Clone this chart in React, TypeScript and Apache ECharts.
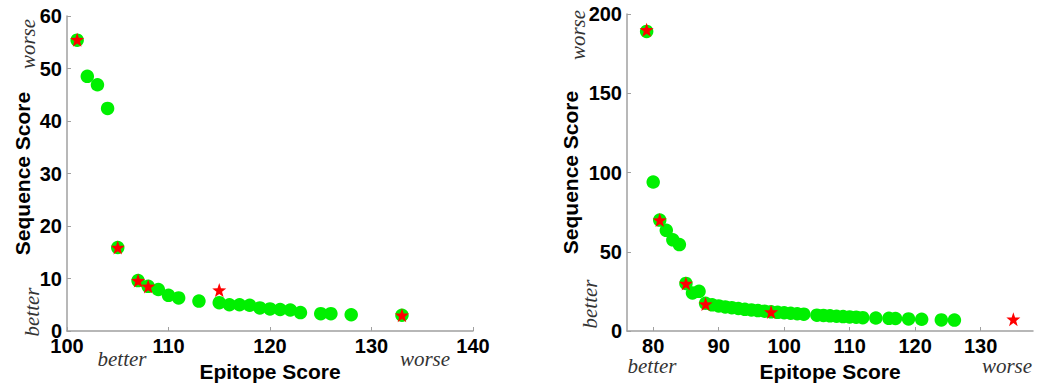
import React, { useEffect, useRef } from "react";
import * as echarts from "echarts";

// ---- Left panel data ----
const leftX = [101, 102, 103, 104, 105, 107, 108, 109, 110, 111, 113, 115, 116, 117, 118, 119, 120, 121, 122, 123, 125, 126, 128, 133];
const leftY = [55.4, 48.5, 46.9, 42.4, 15.9, 9.6, 8.5, 7.9, 6.8, 6.3, 5.7, 5.4, 5.0, 5.0, 4.9, 4.4, 4.2, 4.1, 4.0, 3.5, 3.3, 3.3, 3.1, 3.0];
const leftStarX = [101, 105, 107, 108, 115, 133];
const leftStarY = [55.5, 15.9, 9.6, 8.5, 7.8, 3.0];
const leftXTicks = [100, 110, 120, 130, 140];
const leftYTicks = [0, 10, 20, 30, 40, 50, 60];

// ---- Right panel data ----
const rightX = [79, 80, 81, 82, 83, 84, 85, 86, 87, 88, 89, 90, 91, 92, 93, 94, 95, 96, 97, 98, 99, 100, 101, 102, 103, 105, 106, 107, 108, 109, 110, 111, 112, 114, 116, 117, 119, 121, 124, 126];
const rightY = [189, 94, 70, 63.5, 57.5, 54.5, 30, 24, 25, 17.5, 16.5, 15.8, 15.2, 14.7, 14.2, 13.7, 13.3, 12.9, 12.5, 12.1, 11.8, 11.5, 11.2, 10.9, 10.6, 10.0, 9.8, 9.6, 9.3, 9.1, 8.9, 8.7, 8.4, 8.2, 8.0, 7.9, 7.6, 7.4, 7.0, 6.9];
const rightStarX = [79, 81, 85, 88, 98, 135];
const rightStarY = [190, 70, 30, 17, 12, 7.4];
const rightXTicks = [80, 90, 100, 110, 120, 130];
const rightYTicks = [0, 50, 100, 150, 200];

function starPath(): string {
  const pts: string[] = [];
  for (let i = 0; i < 10; i++) {
    const r = i % 2 === 0 ? 1 : 0.4;
    const a = -Math.PI / 2 + (i * Math.PI) / 5;
    pts.push(`${(r * Math.cos(a)).toFixed(4)} ${(r * Math.sin(a)).toFixed(4)}`);
  }
  return "path://M" + pts.join(" L") + " Z";
}

const zip = (xs: number[], ys: number[]) => xs.map((x, i) => [x, ys[i]]);

const GREEN = "#00f000";
const RED = "#ff0000";
const AXIS = "#a0a0a0";
const tickFont = { fontFamily: "Liberation Sans", fontWeight: "bold" as const, fontSize: 20, color: "#000" };
const titleFont = { fontFamily: "Liberation Sans", fontWeight: "bold" as const, fontSize: 21, color: "#000" };
const italic = { fontFamily: "Liberation Serif", fontStyle: "italic" as const, fontSize: 21, fill: "#333" };

function axisBase() {
  return {
    axisLine: { show: true, lineStyle: { color: AXIS, width: 1.5 } },
    axisTick: { show: true, inside: true, length: 4, lineStyle: { color: AXIS, width: 1 } },
    splitLine: { show: false },
    axisLabel: { ...tickFont, margin: 5 },
    nameTextStyle: titleFont,
  };
}

function label(text: string, x: number, y: number, rot = 0) {
  return {
    type: "text",
    x,
    y,
    rotation: rot,
    style: { text, align: "center", verticalAlign: "middle", ...italic },
  };
}

export default function App() {
  const ref = useRef<HTMLDivElement>(null);
  useEffect(() => {
    if (!ref.current) return;
    const chart = echarts.init(ref.current, undefined, { renderer: "svg" });
    const star = starPath();
    const circleStyle = { color: GREEN, opacity: 1 };
    const starStyle = { color: RED, opacity: 1 };
    chart.setOption({
      animation: false,
      backgroundColor: "#fff",
      grid: [
        { left: 67, top: 16, width: 406, height: 315 },
        { left: 627, top: 14, width: 406, height: 317 },
      ],
      xAxis: [
        {
          ...axisBase(),
          gridIndex: 0,
          type: "value",
          min: leftXTicks[0],
          max: leftXTicks[leftXTicks.length - 1],
          interval: 10,
          name: "Epitope Score",
          nameLocation: "middle",
          nameGap: 28,
        },
        {
          ...axisBase(),
          gridIndex: 1,
          type: "value",
          min: 76,
          max: 138,
          axisLabel: { ...tickFont, margin: 5, customValues: rightXTicks },
          axisTick: { show: true, inside: true, length: 4, lineStyle: { color: AXIS, width: 1 }, customValues: rightXTicks },
          name: "Epitope Score",
          nameLocation: "middle",
          nameGap: 28,
        },
      ],
      yAxis: [
        {
          ...axisBase(),
          gridIndex: 0,
          type: "value",
          min: leftYTicks[0],
          max: leftYTicks[leftYTicks.length - 1],
          interval: 10,
          name: "Sequence Score",
          nameLocation: "middle",
          nameGap: 34,
        },
        {
          ...axisBase(),
          gridIndex: 1,
          type: "value",
          min: rightYTicks[0],
          max: rightYTicks[rightYTicks.length - 1],
          interval: 50,
          name: "Sequence Score",
          nameLocation: "middle",
          nameGap: 46,
        },
      ],
      series: [
        { type: "scatter", xAxisIndex: 0, yAxisIndex: 0, data: zip(leftX, leftY), symbol: "circle", symbolSize: 13.5, itemStyle: circleStyle },
        { type: "scatter", xAxisIndex: 0, yAxisIndex: 0, data: zip(leftStarX, leftStarY), symbol: star, symbolSize: 14, itemStyle: starStyle, z: 3 },
        { type: "scatter", xAxisIndex: 1, yAxisIndex: 1, data: zip(rightX, rightY), symbol: "circle", symbolSize: 13.5, itemStyle: circleStyle },
        { type: "scatter", xAxisIndex: 1, yAxisIndex: 1, data: zip(rightStarX, rightStarY), symbol: star, symbolSize: 14, itemStyle: starStyle, z: 3 },
      ],
      graphic: [
        label("worse", 28, 44, Math.PI / 2),
        label("better", 32, 312, Math.PI / 2),
        label("better", 122, 359),
        label("worse", 425, 359),
        label("worse", 578, 35, Math.PI / 2),
        label("better", 590, 304, Math.PI / 2),
        label("better", 652, 366),
        label("worse", 1007, 366),
      ],
    });
    return () => chart.dispose();
  }, []);
  return <div ref={ref} style={{ position: "absolute", left: 0, top: 0, width: 1041, height: 388 }} />;
}
